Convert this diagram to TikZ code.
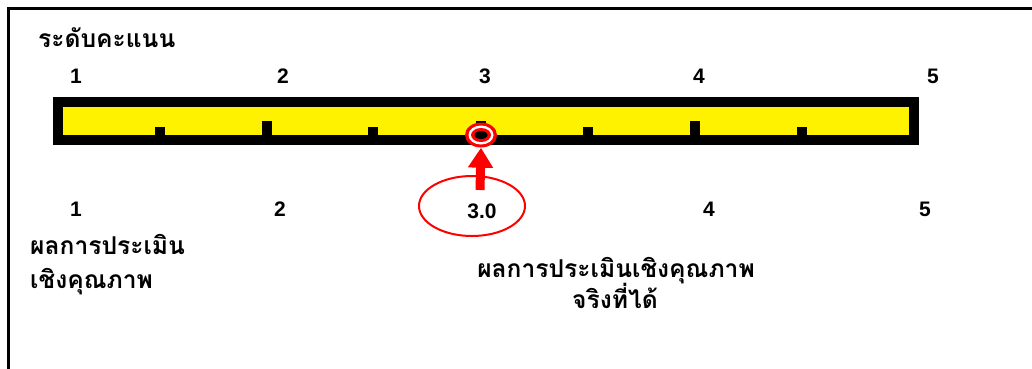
\documentclass[tikz,border=0pt]{standalone}
\usepackage{fontspec}
\setmainfont{Liberation Sans}
\newfontfamily\thaifont[Script=Thai]{Loma}
\usetikzlibrary{arrows.meta,shapes.geometric}

\begin{document}
\begin{tikzpicture}[x=1pt,y=-1pt,inner sep=0pt,
                    font=\bfseries\fontsize{21}{25}\selectfont]
  \tikzstyle{num}=[anchor=base]
  \tikzstyle{thai}=[font=\thaifont\bfseries\fontsize{24.6}{30}\selectfont]
  \tikzstyle{tick}=[fill=black]
  \tikzstyle{pointer}=[red,line width=9pt,-{Triangle[width=24pt,length=20pt]}]

  \useasboundingbox (0,0) rectangle (1032,368);
  \begin{scope}
    \clip (0,0) rectangle (1032,368);
    \draw[line width=3pt] (8.5,8.5) rectangle (1080,420);
  \end{scope}

  % the scale bar
  \fill[black]  (53,97) rectangle (919,145);
  \fill[yellow] (63,107) rectangle (909,135);
  \foreach \x in {267,481,695}
    \fill[tick] (\x-5,121) rectangle (\x+5,135);
  \foreach \x in {160,373,588,802}
    \fill[tick] (\x-5,127) rectangle (\x+5,135);

  \node[thai,anchor=base west] (title) at (38,47) {ระดับคะแนน};

  \node[num] (t1) at (76,83)  {1};
  \node[num] (t2) at (283,83) {2};
  \node[num] (t3) at (485,83) {3};
  \node[num] (t4) at (699,83) {4};
  \node[num] (t5) at (933,83) {5};

  \node[num] (b1) at (76,216)  {1};
  \node[num] (b2) at (280,216) {2};
  \node[num] (b4) at (709,216) {4};
  \node[num] (b5) at (925,216) {5};

  % result marker
  \node[ellipse,draw=red,line width=2pt,minimum width=106pt,minimum height=60pt]
       (val) at (472,206) {};
  \node[num] (valtext) at (482,218) {3.0};

  \node[ellipse,fill=red,minimum width=32pt,minimum height=25pt] (target) at (481,135) {};
  \fill[white] (target) ellipse [x radius=12.5pt,y radius=9.5pt];
  \fill[red]   (target) ellipse [x radius=10pt,y radius=7pt];
  \fill[black] (target) ellipse [x radius=6.5pt,y radius=4pt];

  \coordinate (foot) at (480,190);
  \draw[pointer] (foot) -- (target.south);

  \node[thai,anchor=base west] (left1) at (30,254) {ผลการประเมิน};
  \node[thai,anchor=base west] (left2) at (30,288) {เชิงคุณภาพ};

  \node[thai,anchor=base] (res1) at (616,277) {ผลการประเมินเชิงคุณภาพ};
  \node[thai,anchor=base] (res2) at (615,308) {จริงที่ได้};
\end{tikzpicture}
\end{document}
